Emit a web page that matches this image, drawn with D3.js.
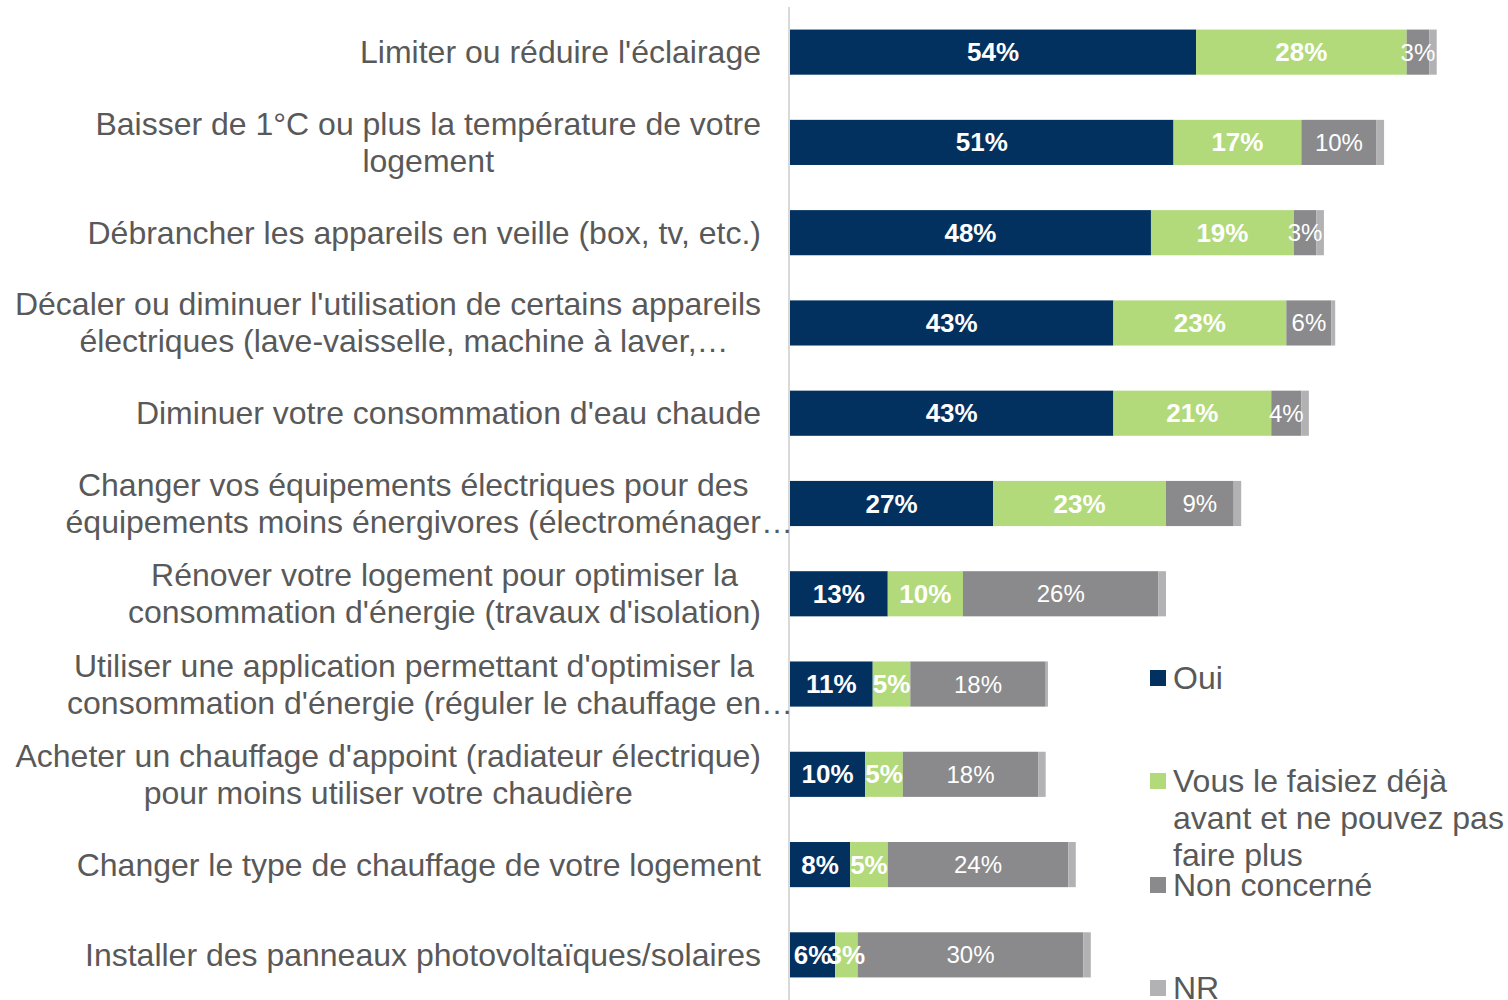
<!DOCTYPE html>
<html>
<head>
<meta charset="utf-8">
<script src="https://cdn.jsdelivr.net/npm/d3@7/dist/d3.min.js"></script>
<style>
  body { margin: 0; background: #fff; }
  svg { display: block; font-family: "Liberation Sans", Arial, sans-serif; }
</style>
</head>
<body>
<svg id="chart" width="1508" height="1000"></svg>
<script>
// Actions (each line is one line of the category label)
const categories = [
  ["Limiter ou réduire l'éclairage"],
  ["Baisser de 1°C ou plus la température de votre", "logement"],
  ["Débrancher les appareils en veille (box, tv, etc.)"],
  ["Décaler ou diminuer l'utilisation de certains appareils", "électriques (lave-vaisselle, machine à laver,…"],
  ["Diminuer votre consommation d'eau chaude"],
  ["Changer vos équipements électriques pour des", "équipements moins énergivores (électroménager…"],
  ["Rénover votre logement pour optimiser la", "consommation d'énergie (travaux d'isolation)"],
  ["Utiliser une application permettant d'optimiser la", "consommation d'énergie (réguler le chauffage en…"],
  ["Acheter un chauffage d'appoint (radiateur électrique)", "pour moins utiliser votre chaudière"],
  ["Changer le type de chauffage de votre logement"],
  ["Installer des panneaux photovoltaïques/solaires"]
]

const seriesNames = ['Oui', 'Vous le faisiez déjà avant et ne pouvez pas faire plus', 'Non concerné', 'NR']
const oui = [54, 51, 48, 43, 43, 27, 13, 11, 10, 8, 6]
const deja = [28, 17, 19, 23, 21, 23, 10, 5, 5, 5, 3]
const nonConcerne = [3, 10, 3, 6, 4, 9, 26, 18, 18, 24, 30]
const nr = [1, 1, 1, 0.5, 1, 1, 1, 0.3, 1, 1, 1]

const colors = ['#03315f', '#b2da7b', '#8a8a8c', '#b2b2b4']

const width = 1508
const height = 1000
const x0 = 790

const svg = d3.select('#chart')

const rows = categories.map((c, i) => ({
  idx: i, lines: c, Oui: oui[i], Deja: deja[i], Non: nonConcerne[i], NR: nr[i]
}))
const keys = ['Oui', 'Deja', 'Non', 'NR']
const stack = d3.stack().keys(keys)(rows)

// Scales
const x = d3.scaleLinear().domain([0, 100]).range([x0, x0 + 752])
const y = d3.scaleBand().domain(d3.range(categories.length)).range([7, 1000]).paddingInner(0.5).paddingOuter(0.25)

// Bars
const layer = svg.selectAll('g.layer').data(stack).enter().append('g')
  .attr('class', 'layer')
  .attr('fill', (d, i) => colors[i])
layer.selectAll('rect').data(d => d).enter().append('rect')
  .attr('x', d => x(d[0]))
  .attr('y', d => y(d.data.idx))
  .attr('width', d => x(d[1]) - x(d[0]))
  .attr('height', y.bandwidth())

// Value labels (no labels on NR)
stack.slice(0, 3).forEach((s, si) => {
  svg.append('g').selectAll('text').data(s).enter().append('text')
    .attr('x', d => (x(d[0]) + x(d[1])) / 2)
    .attr('y', d => y(d.data.idx) + y.bandwidth() / 2)
    .attr('text-anchor', 'middle')
    .attr('dominant-baseline', 'central')
    .attr('fill', '#fff')
    .attr('font-size', si < 2 ? 26 : 24)
    .attr('font-weight', si < 2 ? 'bold' : 'normal')
    .text(d => `${d[1] - d[0]}%`)
})

// Vertical axis line
svg.append('line')
  .attr('x1', x0 - 1).attr('x2', x0 - 1)
  .attr('y1', 7).attr('y2', height)
  .attr('stroke', '#d9d9d9').attr('stroke-width', 2)

// Category labels: lines centred within a block, block right-aligned to the axis
// (a trailing ellipsis is not counted in the width, so it hangs past the edge)
const lineH = 37
const labels = svg.append('g').attr('fill', '#595959').attr('font-size', 32)
const coreWidth = nd => {
  const s = nd.textContent
  return s.endsWith('…') ? nd.getSubStringLength(0, s.length - 1) : nd.getComputedTextLength()
}
rows.forEach(r => {
  const g = labels.append('g')
  const cy = y(r.idx) + y.bandwidth() / 2
  const n = r.lines.length
  const t = g.selectAll('text').data(r.lines).enter().append('text')
    .attr('dominant-baseline', 'central')
    .attr('y', (d, i) => cy + (i - (n - 1) / 2) * lineH)
    .text(d => d)
  const maxW = d3.max(t.nodes(), coreWidth)
  const cx = 761 - maxW / 2
  t.each(function () { d3.select(this).attr('x', cx - coreWidth(this) / 2) })
})

// Legend
const legendY = [678, 781, 885, 988]
const legendLines = [['Oui'], ['Vous le faisiez déjà', 'avant et ne pouvez pas', 'faire plus'], ['Non concerné'], ['NR']]
const legend = svg.append('g').attr('font-size', 32).attr('fill', '#595959')
seriesNames.forEach((name, i) => {
  legend.append('rect')
    .attr('x', 1150).attr('y', legendY[i] - 8)
    .attr('width', 16).attr('height', 16)
    .attr('fill', colors[i])
  legend.append('g').selectAll('text').data(legendLines[i]).enter().append('text')
    .attr('x', 1173)
    .attr('y', (d, j) => legendY[i] + j * 37)
    .attr('dominant-baseline', 'central')
    .text(d => d)
})
</script>
</body>
</html>
